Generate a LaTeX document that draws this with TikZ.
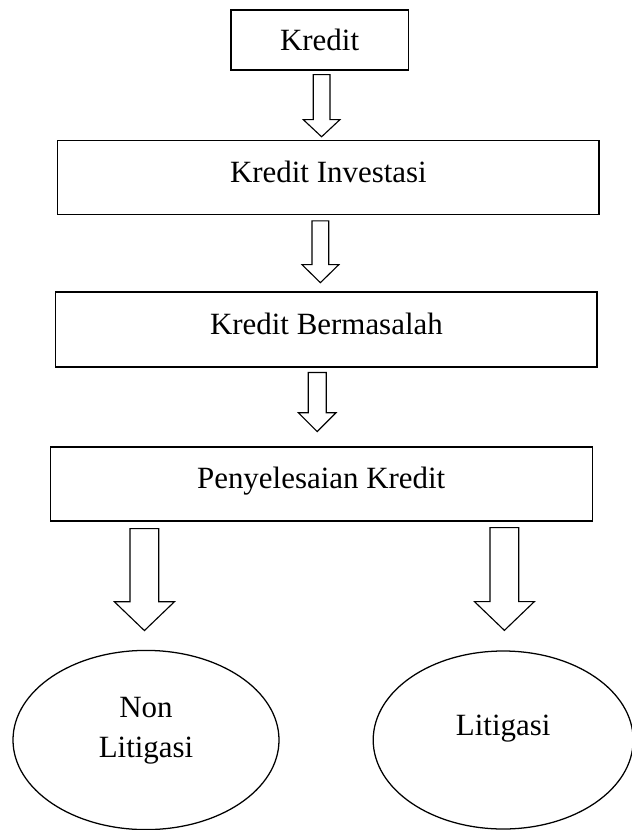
\documentclass[tikz,border=0pt]{standalone}
\usepackage{fontspec}
\setmainfont{Liberation Serif}
\usetikzlibrary{calc,shapes.geometric}

\begin{document}
\begin{tikzpicture}[line cap = round, line join = miter,
        boxnode/.style={draw, line width=0.9pt, rectangle, inner sep=0pt, text height=0.62cm, text depth=0.38cm},
        ovalnode/.style={draw, line width=0.9pt, ellipse, inner sep=0pt, align=center},
        hollow/.style={draw, line width=0.8pt, fill=white}]
        %
        \useasboundingbox (0, 0) rectangle (15.8, -20.75);
        \fontsize{22}{28.5}\selectfont
        %
        \def\ShaftS{0.21cm}
        \def\HeadS{0.46cm}
        \def\ShaftL{0.36cm}
        \def\HeadL{0.75cm}

        % boxes
        \node [boxnode, text height = 0.55cm, text depth = 0.05cm, minimum width = 4.43cm, minimum height = 1.5cm] (kredit) at (7.99, -1.0) {Kredit};
        \node [boxnode, minimum width = 13.53cm, minimum height = 1.85cm] (investasi) at (8.21, -4.43) {Kredit Investasi};
        \node [boxnode, minimum width = 13.53cm, minimum height = 1.875cm] (bermasalah) at (8.16, -8.24) {Kredit Bermasalah};
        \node [boxnode, minimum width = 13.55cm, minimum height = 1.85cm] (penyelesaian) at (8.03, -12.1) {Penyelesaian Kredit};

        % results
        \node [ovalnode, minimum width = 6.65cm, minimum height = 4.48cm] (nonlitigasi) at (3.65, -18.5) {Non\\Litigasi\\[-0.35cm]};
        \node [ovalnode, minimum width = 6.5cm, minimum height = 4.45cm] (litigasi) at (12.58, -18.5) {Litigasi\\[-0.25cm]};

        % arrow ends
        \coordinate (top1) at ($(kredit.south) + (0.05, -0.1)$);
        \coordinate (tip1) at ($(top1 |- investasi.north) + (0, 0.07)$);
        \coordinate (top2) at ($(investasi.south) + (-0.2, -0.15)$);
        \coordinate (tip2) at ($(top2 |- bermasalah.north) + (0, 0.22)$);
        \coordinate (top3) at ($(bermasalah.south) + (-0.23, -0.12)$);
        \coordinate (tip3) at ($(top3 |- penyelesaian.north) + (0, 0.37)$);
        \coordinate (top4) at ($(penyelesaian.south -| nonlitigasi.north) + (-0.04, -0.175)$);
        \coordinate (tip4) at ($(nonlitigasi.north) + (-0.04, 0.48)$);
        \coordinate (top5) at ($(penyelesaian.south -| litigasi.north) + (0.03, -0.15)$);
        \coordinate (tip5) at ($(litigasi.north) + (0.03, 0.5)$);

        % block arrows
        \foreach \from/\to/\shaft/\head/\len in {top1/tip1/\ShaftS/\HeadS/0.43cm, top2/tip2/\ShaftS/\HeadS/0.45cm, top3/tip3/0.225cm/0.47cm/0.47cm, top4/tip4/\ShaftL/\HeadL/0.72cm, top5/tip5/\ShaftL/\HeadL/0.72cm}
        {
            \draw [hollow] let \p1 = (\from), \p2 = (\to) in
                (\x1 - \shaft, \y1) -- (\x1 - \shaft, \y2 + \len) -- (\x1 - \head, \y2 + \len) -- (\x1, \y2)
                -- (\x1 + \head, \y2 + \len) -- (\x1 + \shaft, \y2 + \len) -- (\x1 + \shaft, \y1) -- cycle;
        }
    \end{tikzpicture}
\end{document}
